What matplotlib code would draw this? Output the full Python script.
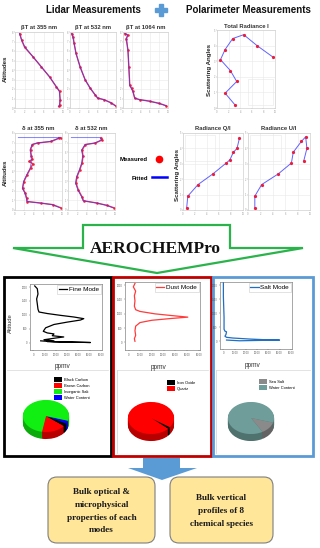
import matplotlib
matplotlib.use('Agg')
import matplotlib.pyplot as plt
from matplotlib.patches import Polygon, FancyBboxPatch, Rectangle
from matplotlib.lines import Line2D
from matplotlib.colors import to_rgb

plt.rcParams['font.family'] = ['Liberation Sans', 'DejaVu Sans']

# ---------------- data (normalised panel units) ----------------
bt355_alt = [0.02, 0.04, 0.11, 0.22, 0.28, 0.41, 0.54, 0.67, 0.80, 0.89, 0.98]
bt355_meas = [0.91, 0.93, 0.94, 0.93, 0.86, 0.72, 0.55, 0.38, 0.20, 0.14, 0.10]
bt355_fit = [0.92, 0.93, 0.94, 0.92, 0.86, 0.72, 0.55, 0.38, 0.21, 0.14, 0.09]

bt532_alt = [0.03, 0.07, 0.11, 0.13, 0.17, 0.26, 0.37, 0.54, 0.72, 0.85, 0.93, 0.98]
bt532_meas = [0.99, 0.89, 0.74, 0.60, 0.55, 0.44, 0.33, 0.22, 0.13, 0.09, 0.07, 0.04]
bt532_fit = [0.98, 0.88, 0.73, 0.61, 0.55, 0.44, 0.33, 0.22, 0.13, 0.09, 0.06, 0.04]

bt1064_alt = [0.03, 0.06, 0.09, 0.11, 0.13, 0.22, 0.26, 0.30, 0.54, 0.76, 0.91, 0.96, 0.98]
bt1064_meas = [0.96, 0.81, 0.59, 0.37, 0.26, 0.22, 0.19, 0.15, 0.13, 0.11, 0.07, 0.11, 0.04]
bt1064_fit = [0.95, 0.80, 0.58, 0.36, 0.26, 0.22, 0.18, 0.15, 0.13, 0.11, 0.08, 0.10, 0.05]

d355_alt = [0.03, 0.07, 0.09, 0.11, 0.15, 0.22, 0.28, 0.37, 0.46, 0.54, 0.60, 0.63, 0.66, 0.70, 0.78, 0.85, 0.87, 0.89, 0.94, 0.94]
d355_meas = [0.97, 0.80, 0.55, 0.26, 0.25, 0.22, 0.16, 0.19, 0.26, 0.33, 0.38, 0.30, 0.37, 0.35, 0.33, 0.37, 0.48, 0.77, 0.97, 0.93]
d355_fit_alt = [0.03, 0.07, 0.09, 0.11, 0.15, 0.22, 0.28, 0.37, 0.46, 0.54, 0.63, 0.70, 0.78, 0.85, 0.87, 0.89, 0.94, 0.94]
d355_fit = [0.95, 0.79, 0.54, 0.25, 0.24, 0.21, 0.16, 0.18, 0.25, 0.32, 0.35, 0.34, 0.32, 0.36, 0.46, 0.75, 0.96, 0.07]

d532_alt = [0.03, 0.06, 0.09, 0.12, 0.17, 0.26, 0.35, 0.43, 0.52, 0.61, 0.70, 0.78, 0.85, 0.87, 0.91, 0.94]
d532_meas = [0.97, 0.83, 0.62, 0.33, 0.30, 0.22, 0.17, 0.19, 0.25, 0.30, 0.32, 0.30, 0.37, 0.58, 0.73, 0.70]
d532_fit_alt = [0.03, 0.06, 0.09, 0.12, 0.17, 0.26, 0.35, 0.43, 0.52, 0.61, 0.70, 0.78, 0.85, 0.87, 0.91, 0.94, 0.94]
d532_fit = [0.95, 0.82, 0.61, 0.32, 0.29, 0.21, 0.16, 0.18, 0.24, 0.29, 0.31, 0.29, 0.36, 0.57, 0.71, 0.68, 0.07]

totI_val = [0.31, 0.14, 0.34, 0.23, 0.06, 0.14, 0.27, 0.46, 0.69, 0.97]
totI_ang = [0.04, 0.19, 0.34, 0.48, 0.62, 0.75, 0.89, 0.94, 0.80, 0.65]

qI_val = [0.06, 0.08, 0.25, 0.50, 0.72, 0.78, 0.84, 0.90, 0.94]
qI_ang = [0.02, 0.18, 0.33, 0.47, 0.61, 0.65, 0.75, 0.80, 0.93]

uI_val = [0.11, 0.11, 0.22, 0.49, 0.70, 0.73, 0.86, 0.93, 0.95, 0.90]
uI_ang = [0.02, 0.18, 0.33, 0.47, 0.61, 0.75, 0.89, 0.95, 0.80, 0.64]

fine_ppmv = [1.2, 3.5, 4.1, 2.9, 3.5, 4.1, 5.0, 12.4, 24.0, 36.0, 44.8, 41.8, 30.0, 18.3, 10.9, 8.8, 12.4, 18.3, 16.8, 27.0, 19.5, 9.4, 18.3, 12.4, 50.7, 18.3, 6.5]
fine_alt = [2040, 1940, 1750, 1570, 1390, 1200, 1100, 1045, 980, 920, 860, 810, 735, 650, 530, 405, 345, 310, 245, 200, 160, 100, 60, 35, 0, 25, 60]

dust_ppmv = [5.5, 4.1, 6.1, 5.0, 5.5, 5.0, 6.1, 9.8, 22.6, 36.9, 50.6, 36.9, 19.8, 9.8, 6.1, 5.5, 6.1, 5.0, 5.5]
dust_alt = [2060, 1940, 1790, 1630, 1450, 1265, 1140, 1080, 995, 935, 880, 835, 770, 690, 565, 405, 245, 125, 35]

salt_ppmv = [0.0, 0.0, 0.6, 0.6, 1.4, 2.8, 2.3, 1.4, 2.8, 8.5, 22.8, 37.0, 49.9, 14.3, 2.8]
salt_alt = [2080, 1590, 860, 430, 365, 340, 245, 185, 145, 120, 85, 60, 48, 22, 48]

ppmv_ticks = [0, 10, 20, 30, 40, 50, 60]
ppmv_ticklabels = ['0', '10.00', '20.00', '30.00', '40.00', '50.00', '60.00']
alt_ticks = [0, 500, 1000, 1500, 2000]

fine_species = ['Black Carbon', 'Brown Carbon', 'Inorganic Salt', 'Water Content']
fine_share = [3, 17, 77, 3]
fine_colors = ['#000000', '#ff0000', '#11ee11', '#0000ff']
fine_order = [1, 0, 3, 2]

dust_species = ['Iron Oxide', 'Quartz']
dust_share = [2, 98]
dust_colors = ['#000000', '#ff0000']
dust_order = [0, 1]

salt_species = ['Sea Salt', 'Water Content']
salt_share = [12, 88]
salt_colors = ['#8a8a8a', '#6f9e9a']
salt_order = [0, 1]

left_box_lines = ['Bulk optical &', 'microphysical', 'properties of each', 'modes']
right_box_lines = ['Bulk vertical', 'profiles of 8', 'chemical species']

# ---------------- figure ----------------
W, H = 320, 548
fig = plt.figure(figsize=(3.2, 5.48), dpi=100)


def px_axes(x0, y0, x1, y1):
    return fig.add_axes([x0 / W, 1 - y1 / H, (x1 - x0) / W, (y1 - y0) / H])


bg = px_axes(0, 0, W, H)
bg.set_xlim(0, W)
bg.set_ylim(H, 0)
bg.axis('off')

RED = '#ee1c3c'
BLUE = '#3a3aff'

# headers
bg.text(93, 10, 'Lidar Measurements', fontsize=7, weight='bold', ha='center', va='center', color='#111')
bg.text(248, 10, 'Polarimeter Measurements', fontsize=7, weight='bold', ha='center', va='center', color='#111')
bg.plot([161], [10], marker='P', ms=8.5, color='#5b9bd5', mec='#5b9bd5')

# y labels
for (x, y, s) in [(5, 69, 'Altitudes'), (5, 173, 'Altitudes'),
                  (209, 70, 'Scattering Angles'), (177, 175, 'Scattering Angles')]:
    bg.text(x, y, s, rotation=90, fontsize=4.4, weight='bold', ha='center', va='center', color='#222')


def style_small(ax, nx=6, ny=9):
    ax.set_xlim(0, 1)
    ax.set_ylim(0, 1)
    ax.set_xticks([i / (nx - 1) for i in range(nx)])
    ax.set_yticks([i / (ny - 1) for i in range(ny)])
    ax.set_xticklabels([f'{i*2}' for i in range(nx)])
    ax.set_yticklabels([f'{i}' for i in range(ny)])
    ax.tick_params(labelsize=1.8, length=0.8, width=0.3, colors='#999999', pad=0.6)
    ax.grid(color='#e8e8e8', lw=0.4)
    for sp in ax.spines.values():
        sp.set_color('#d0d0d0')
        sp.set_linewidth(0.5)


def lidar_panel(box, title, mx, my, fx, fy):
    ax = px_axes(*box)
    ax.plot(mx, my, color=RED, lw=1.0, marker='o', ms=0.9, alpha=0.9)
    ax.plot(fx, fy, color=BLUE, lw=0.6, alpha=0.75)
    style_small(ax)
    ax.set_title(title, fontsize=4.2, weight='bold', pad=1.8, color='#333')
    return ax


lidar_panel((15, 32, 63, 108), 'βT at 355 nm', bt355_meas, bt355_alt, bt355_fit, bt355_alt)
lidar_panel((70, 32, 116, 108), 'βT at 532 nm', bt532_meas, bt532_alt, bt532_fit, bt532_alt)
lidar_panel((123, 32, 168, 108), 'βT at 1064 nm', bt1064_meas, bt1064_alt, bt1064_fit, bt1064_alt)
lidar_panel((15, 133, 62, 210), 'δ at 355 nm', d355_meas, d355_alt, d355_fit, d355_fit_alt)
lidar_panel((68, 133, 115, 210), 'δ at 532 nm', d532_meas, d532_alt, d532_fit, d532_fit_alt)


def polar_panel(box, title, vals, angs, inset):
    ax = px_axes(*box)
    ax.plot(vals, angs, color=BLUE, lw=0.7, alpha=0.8)
    ax.plot(vals, angs, ls='none', marker='o', ms=1.3, color=RED, mec=RED)
    style_small(ax, nx=6, ny=6)
    ax.add_patch(Rectangle(inset[:2], inset[2], inset[3], transform=ax.transAxes,
                           fill=False, ec='#ececec', lw=0.5))
    ax.set_title(title, fontsize=4.2, weight='bold', pad=1.8, color='#333')
    return ax


polar_panel((217, 30, 275, 108), 'Total Radiance I', totI_val, totI_ang, (0.53, 0.04, 0.44, 0.33))
polar_panel((183, 133, 243, 210), 'Radiance Q/I', qI_val, qI_ang, (0.03, 0.63, 0.5, 0.34))
polar_panel((248, 133, 310, 210), 'Radiance U/I', uI_val, uI_ang, (0.03, 0.63, 0.5, 0.34))

# Measured / Fitted legend
h_meas = Line2D([], [], color='#ff0000', marker='o', ls='none', ms=4.5)
h_fit = Line2D([], [], color='#0000ff', lw=1.8)
fig.legend([h_meas, h_fit], ['Measured', 'Fitted'], markerfirst=False, frameon=False,
           loc='center left', bbox_to_anchor=(117 / W, 1 - 168.5 / H),
           prop=dict(size=4.3, weight='bold'), labelspacing=2.3, handlelength=2.6,
           handletextpad=0.6, borderpad=0)

# green outline arrow
bg.add_patch(Polygon([(83, 225), (230, 225), (230, 248), (303, 248), (157, 273), (13, 248), (83, 248)],
                     closed=True, fc='white', ec='#2bb34b', lw=1.6, joinstyle='miter'))
bg.text(155, 249, 'AEROCHEMPro', fontsize=12.5, family='Liberation Serif', weight='bold',
        ha='center', va='center', color='#111')

# mode boxes
for (x0, x1, col) in [(4, 111, '#000000'), (113, 211, '#c00000'), (213, 313, '#5b9bd5')]:
    bg.add_patch(Rectangle((x0, 277), x1 - x0, 179, fill=False, ec=col, lw=2.0))
# light separators
for (x0, x1) in [(7, 108), (117, 208), (216, 310)]:
    bg.plot([x0, x1], [370, 370], color='#d8d8d8', lw=0.5)
bg.plot([117, 117], [370, 453], color='#d8d8d8', lw=0.6)
bg.plot([216, 216], [370, 453], color='#d8d8d8', lw=0.6)


def profile(box, x, y, color, label, ylabel=None):
    ax = px_axes(*box)
    ax.plot(x, y, color=color, lw=0.9, label=label)
    ax.set_xlim(-3, 61)
    ax.set_ylim(-270, 2110)
    ax.set_xticks(ppmv_ticks)
    ax.set_xticklabels(ppmv_ticklabels)
    ax.set_yticks(alt_ticks)
    ax.tick_params(labelsize=1.8, length=1.0, width=0.3, pad=0.8, colors='#555555')
    for sp in ax.spines.values():
        sp.set_linewidth(0.4)
        sp.set_color('#666666')
    leg = ax.legend(loc='upper right', prop=dict(size=4.6), handlelength=1.3, borderpad=0.25,
                    handletextpad=0.3, borderaxespad=0.2, fancybox=False, edgecolor='#cccccc',
                    framealpha=1)
    leg.get_frame().set_linewidth(0.4)
    ax.set_xlabel('ppmv', fontsize=4.7, color='#333')
    ax.xaxis.set_label_coords(0.45, -0.2)
    if ylabel:
        ax.set_ylabel(ylabel, fontsize=4.2, color='#333')
        ax.yaxis.set_label_coords(-0.24, 0.4)
    return ax


profile((30, 284, 102, 350), fine_ppmv, fine_alt, '#000000', 'Fine Mode', 'Altitude')
profile((125, 282, 200, 350), dust_ppmv, dust_alt, '#ff3b3b', 'Dust Mode')
profile((220, 282, 292, 349), salt_ppmv, salt_alt, '#1f6fc4', 'Salt Mode')


def darken(c, f=0.72):
    r, g, b = to_rgb(c)
    return (r * f, g * f, b * f)


def pie3d(cx, cy, shares, colors, order, species, startangle, leg_xy):
    ax = px_axes(cx - 24, cy - 17, cx + 24, cy + 24)
    vals = [shares[i] for i in order]
    cols = [colors[i] for i in order]
    depth = 7 / 16
    nlay = 10
    for k in range(nlay):
        off = -depth * (1 - k / nlay)
        ax.pie(vals, colors=[darken(c) for c in cols], startangle=startangle,
               center=(0, off), radius=1, counterclock=True, wedgeprops=dict(lw=0))
    wedges, _ = ax.pie(vals, colors=cols, startangle=startangle, counterclock=True,
                       wedgeprops=dict(lw=0))
    ax.set_aspect('auto')
    ax.set_xlim(-1.04, 1.04)
    ax.set_ylim(-1 - depth - 0.06, 1.06)
    ax.axis('off')
    handles = [wedges[order.index(i)] for i in range(len(shares))]
    fig.legend(handles, species, loc='upper left', bbox_to_anchor=(leg_xy[0] / W, 1 - leg_xy[1] / H),
               frameon=False, prop=dict(size=2.9), handlelength=2.0, handleheight=1.4,
               labelspacing=0.35, handletextpad=0.4, borderpad=0, borderaxespad=0)


pie3d(46, 416, fine_share, fine_colors, fine_order, fine_species, -100, (54, 377))
pie3d(151, 418, dust_share, dust_colors, dust_order, dust_species, -42, (167, 380))
pie3d(251, 418, salt_share, salt_colors, salt_order, salt_species, -60, (259, 379))

# blue down arrow
bg.add_patch(Polygon([(143, 458), (180, 458), (180, 468), (197, 468), (162, 480), (128, 468), (143, 468)],
                     closed=True, fc='#5b9bd5', ec='none'))

# yellow result boxes
for (x0, x1, lines, ytop) in [(48, 155, left_box_lines, 492), (170, 273, right_box_lines, 498)]:
    bg.add_patch(FancyBboxPatch((x0, 477), x1 - x0, 66, boxstyle='round,pad=0,rounding_size=9',
                                fc='#ffe699', ec='#7f7f7f', lw=0.8))
    for i, s in enumerate(lines):
        bg.text((x0 + x1) / 2, ytop + i * 12.8, s, fontsize=6.6, family='Liberation Serif',
                weight='bold', ha='center', va='center', color='#1a1a1a')

fig.savefig('out.png', dpi=100)
